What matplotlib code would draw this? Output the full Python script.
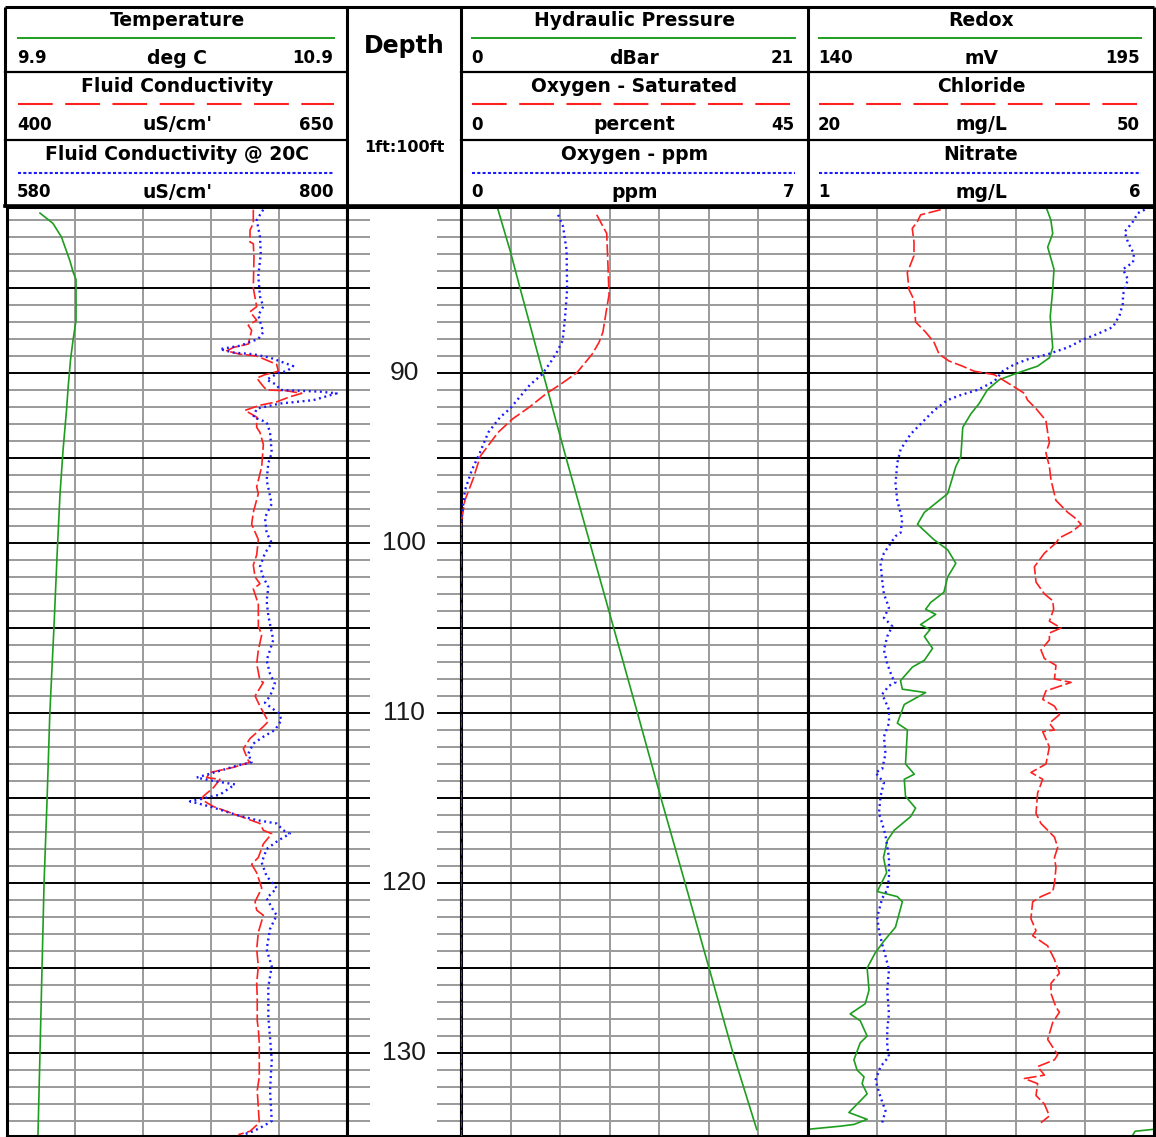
import numpy as np
import matplotlib
matplotlib.use("Agg")
import matplotlib.pyplot as plt
from matplotlib.ticker import MultipleLocator

plt.rcParams['lines.scale_dashes'] = False
plt.rcParams['font.family'] = ['DejaVu Sans']

# ---------------- data ----------------
# Track 1
temp_depth = [80.6, 81.2, 82.0, 83.4, 84.1, 84.5, 86.9, 88.1, 89.2, 90.8, 92.2, 94.5,
              97.1, 100.4, 105.0, 110.0, 115.0, 120.0, 125.0, 130.0, 134.9]
temp_val = [9.997, 10.035, 10.060, 10.085, 10.095, 10.103, 10.103, 10.094, 10.087, 10.080,
            10.075, 10.065, 10.056, 10.048, 10.038, 10.026, 10.018, 10.009, 10.003, 9.997, 9.991]

fc_depth = [80.4, 81.2, 81.6, 82.3, 82.4, 83.2, 85.0, 86.1, 86.4, 86.9, 87.2, 87.5, 88.3, 88.5,
            88.7, 88.9, 89.0, 89.5, 89.9, 90.1, 90.3, 90.8, 91.0, 91.05, 91.2, 91.4, 91.7, 91.9,
            92.2, 92.6, 93.2, 93.5, 94.2, 95.5, 96.7, 97.1, 98.2, 98.9, 99.8, 100.7, 101.3,
            102.0, 102.4, 102.7, 103.6, 104.9, 105.4, 106.3, 107.1, 108.1, 108.2, 109.0, 109.6,
            110.5, 110.8, 111.5, 112.1, 112.8, 112.9, 113.2, 113.5, 113.8, 113.9, 114.4, 114.9,
            115.1, 115.5, 116.0, 116.5, 116.9, 117.1, 117.7, 118.5, 118.9, 119.4, 120.3, 121.1,
            121.6, 121.9, 122.9, 123.9, 124.9, 125.9, 126.7, 128.1, 128.6, 129.4, 131.4, 132.2,
            134.1, 134.6, 134.8]
fc_val = [581.1, 581.1, 578.7, 578.7, 581.1, 581.6, 581.1, 583.6, 578.7, 583.6, 577.4, 579.9,
          577.4, 566.4, 561.5, 571.3, 583.6, 598.3, 599.5, 589.7, 583.6, 588.5, 591.0, 605.7,
          616.7, 608.1, 598.3, 586.0, 575.0, 583.6, 583.6, 586.0, 588.5, 587.3, 583.6, 584.8,
          581.1, 579.9, 584.8, 583.6, 581.1, 582.4, 586.0, 581.1, 584.8, 584.8, 587.3, 584.8,
          583.6, 586.0, 588.5, 582.4, 586.0, 592.1, 588.5, 578.7, 573.8, 577.4, 578.7, 566.4,
          549.3, 546.8, 556.6, 551.7, 544.3, 543.2, 551.7, 568.9, 586.0, 588.5, 594.6, 588.5,
          584.8, 579.9, 583.6, 587.3, 582.4, 583.6, 588.5, 584.8, 583.6, 584.8, 583.6, 584.0,
          584.0, 584.8, 585.5, 585.5, 584.0, 585.5, 578.7, 570.1]

fc20_depth = [80.4, 81.0, 82.0, 83.0, 84.3, 85.5, 86.1, 86.6, 87.6, 88.0, 88.4, 88.6, 88.8,
              88.9, 89.1, 89.6, 89.9, 90.0, 90.4, 90.7, 91.0, 91.1, 91.2, 91.6, 91.8, 92.1,
              92.6, 92.9, 93.5, 94.7, 95.3, 96.3, 97.7, 98.5, 99.4, 100.0, 100.6, 101.4, 102.0,
              102.6, 103.4, 104.3, 105.7, 106.9, 107.7, 108.3, 109.0, 109.4, 110.0, 110.4, 111.0,
              111.4, 111.8, 112.4, 112.9, 113.1, 113.4, 113.8, 114.0, 114.2, 114.8, 115.2, 115.5,
              116.0, 116.3, 116.5, 116.9, 117.1, 117.5, 118.0, 118.8, 119.6, 120.3, 120.9, 121.6,
              121.9, 122.7, 123.9, 124.9, 126.1, 127.9, 129.1, 130.4, 132.2, 134.0, 134.3, 134.6,
              134.8]
fc20_val = [745.8, 741.6, 743.7, 744.2, 742.6, 743.7, 745.8, 742.6, 745.8, 742.6, 730.8, 717.8,
            726.4, 739.4, 750.2, 765.2, 761.0, 755.5, 748.0, 754.5, 756.6, 782.5, 793.3, 778.2,
            756.6, 741.6, 739.4, 748.0, 750.2, 751.3, 749.1, 748.0, 751.3, 746.9, 748.0, 751.3,
            746.9, 743.7, 745.8, 749.1, 748.0, 749.1, 752.3, 748.0, 750.2, 753.4, 750.2, 746.9,
            755.5, 757.7, 753.4, 745.8, 739.4, 736.1, 738.3, 728.6, 717.8, 702.7, 713.5, 727.5,
            717.8, 698.4, 711.3, 728.6, 741.6, 754.5, 758.8, 763.1, 755.5, 748.0, 744.8, 748.0,
            754.5, 748.0, 752.3, 754.5, 750.2, 748.0, 751.3, 749.1, 749.1, 750.2, 751.3, 750.2,
            751.3, 745.8, 739.4, 732.9]

# Track 3
pres_depth = [80.2, 82.8, 85.0, 90.0, 95.0, 100.0, 105.0, 110.0, 115.0, 120.0, 125.0, 130.0, 134.5]
pres_val = [2.18, 2.97, 3.57, 4.96, 6.36, 7.80, 9.24, 10.68, 12.10, 13.56, 15.01, 16.46, 17.90]

osat_depth = [80.7, 81.8, 85.4, 86.2, 87.6, 88.2, 88.9, 90.0, 90.7, 91.2, 92.0, 92.7, 93.5,
              94.9, 96.2, 97.5, 98.6, 99.2, 134.9]
osat_val = [17.6, 18.9, 19.2, 18.9, 18.4, 17.9, 17.0, 15.0, 12.8, 11.1, 8.9, 6.7, 4.8,
            2.5, 1.6, 0.5, 0.1, 0.0, 0.0]

oppm_depth = [80.7, 81.4, 82.8, 85.1, 86.7, 88.1, 88.8, 89.4, 90.1, 90.7, 91.5, 92.1, 92.6,
              93.5, 94.7, 95.7, 96.9, 98.6, 99.2, 134.9]
oppm_val = [1.96, 2.06, 2.13, 2.14, 2.10, 2.05, 1.93, 1.80, 1.63, 1.39, 1.16, 0.99, 0.79,
            0.55, 0.38, 0.22, 0.08, 0.01, 0.0, 0.0]

# Track 4
redox_depth = [80.2, 81.0, 81.8, 82.6, 83.9, 85.1, 86.7, 88.5, 89.1, 89.6, 90.0, 90.4, 91.0,
               91.8, 92.4, 93.2, 94.9, 95.5, 97.1, 98.2, 98.9, 99.8, 100.4, 101.2, 102.0, 102.9,
               103.5, 103.9, 104.2, 104.8, 105.1, 105.5, 106.2, 106.9, 107.3, 108.1, 108.6,
               108.8, 109.5, 110.6, 111.0, 113.0, 113.6, 113.9, 114.9, 115.6, 116.1, 116.9,
               117.5, 118.5, 119.4, 120.5, 120.8, 121.1, 122.6, 123.4, 124.1, 125.0, 126.3,
               127.1, 127.7, 128.1, 129.0, 129.4, 130.4, 131.0, 131.4, 131.8, 132.4, 133.5,
               133.9, 134.2, 134.3, 134.5, 134.6, 134.9]
redox_val = [177.8, 178.6, 178.9, 178.1, 179.1, 178.9, 178.5, 178.9, 178.4, 176.5, 173.3, 170.4,
             168.5, 167.2, 165.9, 164.6, 164.3, 163.5, 162.2, 158.5, 157.4, 160.0, 162.2, 163.5,
             162.2, 161.6, 159.5, 158.7, 160.3, 157.9, 159.4, 158.5, 159.8, 158.5, 156.6, 154.7,
             155.0, 158.7, 155.3, 154.2, 155.8, 155.5, 156.9, 155.3, 155.5, 157.1, 156.3, 153.7,
             152.6, 152.0, 152.5, 151.0, 154.2, 155.0, 153.9, 152.1, 150.7, 149.4, 149.7, 149.1,
             146.7, 148.3, 149.4, 148.3, 147.3, 147.8, 148.9, 148.6, 149.4, 146.5, 149.4, 147.3,
             145.2, 139.6, 137.0, 136.5]

cl_depth = [80.4, 80.6, 80.7, 81.1, 81.5, 82.3, 83.1, 84.1, 85.1, 85.7, 87.0, 87.6, 88.2, 88.9,
            89.3, 89.6, 89.9, 90.1, 90.7, 91.2, 91.6, 92.1, 92.8, 93.5, 94.1, 94.7, 95.5, 96.3,
            97.5, 98.2, 98.5, 98.9, 99.3, 99.7, 100.0, 100.6, 101.4, 102.3, 103.0, 103.4, 103.9,
            104.6, 105.0, 105.3, 105.7, 106.3, 106.8, 107.2, 108.0, 108.2, 108.4, 108.7, 109.2,
            109.6, 110.1, 110.6, 111.0, 111.1, 112.0, 113.0, 113.5, 113.9, 114.7, 115.9, 116.5,
            117.3, 117.9, 118.5, 119.1, 120.0, 120.5, 120.8, 121.1, 122.1, 122.8, 123.1, 123.7,
            124.5, 125.3, 125.9, 126.5, 127.3, 127.6, 128.2, 129.2, 130.1, 130.4, 130.8, 131.3,
            131.5, 131.8, 132.5, 133.0, 133.7, 134.1]
cl_val = [31.50, 30.35, 29.77, 29.48, 29.04, 29.19, 29.19, 28.61, 28.76, 29.19, 29.33, 30.20,
          30.93, 31.37, 32.23, 33.39, 34.41, 36.15, 37.59, 38.76, 39.04, 39.77, 40.63, 40.78,
          40.93, 40.63, 40.93, 41.07, 41.50, 42.52, 43.10, 43.68, 42.96, 41.80, 41.50, 40.50,
          39.63, 39.77, 40.50, 41.22, 41.30, 40.93, 41.94, 40.93, 40.93, 40.20, 40.50, 41.50,
          41.37, 42.81, 41.94, 40.63, 40.35, 41.37, 41.80, 40.93, 41.37, 40.35, 40.93, 40.63,
          39.33, 40.35, 39.91, 39.77, 40.20, 41.37, 41.65, 41.37, 41.50, 41.37, 41.22, 40.20,
          39.48, 39.33, 39.77, 39.48, 40.78, 41.37, 41.80, 41.07, 41.07, 41.50, 41.80, 41.22,
          40.78, 41.65, 41.37, 39.91, 40.50, 38.76, 39.91, 39.77, 40.50, 40.93, 40.20]

no3_depth = [80.4, 80.6, 81.1, 81.7, 82.3, 83.0, 83.5, 83.9, 84.5, 85.4, 85.9, 86.6, 87.3, 87.7,
             88.0, 88.5, 88.9, 89.2, 89.5, 89.9, 90.5, 91.0, 91.3, 91.6, 92.2, 92.9, 93.6, 94.5,
             95.3, 96.5, 97.5, 98.6, 99.4, 99.6, 100.6, 101.2, 102.2, 103.0, 103.8, 104.4, 104.9,
             105.5, 106.3, 107.1, 107.9, 108.2, 108.4, 108.9, 109.8, 110.6, 111.4, 112.4, 113.3,
             113.5, 114.1, 114.9, 115.9, 116.5, 117.2, 118.5, 119.7, 120.4, 120.9, 122.0, 122.8,
             123.6, 124.3, 125.1, 126.3, 127.7, 128.6, 129.6, 130.2, 130.8, 131.6, 132.6, 133.4,
             134.1]
no3_val = [5.865, 5.768, 5.696, 5.575, 5.623, 5.710, 5.696, 5.551, 5.623, 5.551, 5.551, 5.503,
           5.406, 5.188, 4.996, 4.754, 4.464, 4.174, 3.981, 3.812, 3.691, 3.449, 3.207, 3.014,
           2.822, 2.652, 2.483, 2.338, 2.290, 2.265, 2.290, 2.362, 2.338, 2.265, 2.097, 2.048,
           2.072, 2.097, 2.170, 2.097, 2.217, 2.145, 2.097, 2.145, 2.217, 2.265, 2.170, 2.072,
           2.170, 2.170, 2.097, 2.120, 2.072, 1.975, 2.097, 2.048, 2.025, 2.072, 2.120, 2.170,
           2.170, 2.145, 2.072, 2.000, 2.025, 2.072, 2.120, 2.170, 2.145, 2.170, 2.145, 2.145,
           2.170, 2.048, 1.975, 2.048, 2.120, 2.072]

# scales / header labels
track1_names = ["Temperature", "Fluid Conductivity", "Fluid Conductivity @ 20C"]
track1_units = ["deg C", "uS/cm'", "uS/cm'"]
track1_ranges = [(9.9, 10.9), (400, 650), (580, 800)]
track3_names = ["Hydraulic Pressure", "Oxygen - Saturated", "Oxygen - ppm"]
track3_units = ["dBar", "percent", "ppm"]
track3_ranges = [(0, 21), (0, 45), (0, 7)]
track4_names = ["Redox", "Chloride", "Nitrate"]
track4_units = ["mV", "mg/L", "mg/L"]
track4_ranges = [(140, 195), (20, 50), (1, 6)]
depth_labels = [90, 100, 110, 120, 130]
depth_top, depth_bottom = 80.24, 134.88

# ---------------- figure ----------------
W, H = 1156, 1137
fig = plt.figure(figsize=(W / 100, H / 100), dpi=100)
fig.patch.set_facecolor('white')


def box(x0, y0, x1, y1):
    return [x0 / W, 1 - y1 / H, (x1 - x0) / W, (y1 - y0) / H]


GREEN = '#1e9e1e'
RED = '#ff2020'
BLUE = '#1a1aff'
GRID = '#9a9a9a'
styles = [dict(color=GREEN, lw=1.2, ls='-'),
          dict(color=RED, lw=1.2, dashes=(9, 2.5)),
          dict(color=BLUE, lw=1.7, dashes=(1.4, 2.6))]

PLOT_TOP, PLOT_BOT = 207, 1136


def setup_track(ax, xlim, ndiv):
    ax.set_xlim(*xlim)
    ax.set_ylim(depth_bottom, depth_top)
    ax.set_xticks(np.linspace(xlim[0], xlim[1], ndiv + 1))
    ax.yaxis.set_major_locator(MultipleLocator(5))
    ax.yaxis.set_minor_locator(MultipleLocator(1))
    ax.grid(axis='x', which='major', color=GRID, lw=1.4)
    ax.grid(axis='y', which='minor', color=GRID, lw=1.4)
    ax.grid(axis='y', which='major', color='black', lw=1.4)
    ax.tick_params(which='both', length=0, labelbottom=False, labelleft=False)
    ax.set_axisbelow(True)
    for s in ax.spines.values():
        s.set_color('black')
        s.set_linewidth(2.2)


def twin(ax, xlim):
    t = ax.twiny()
    t.set_xlim(*xlim)
    t.set_ylim(depth_bottom, depth_top)
    t.axis('off')
    return t


ax1 = fig.add_axes(box(7, PLOT_TOP, 347, PLOT_BOT))
axd = fig.add_axes(box(347, PLOT_TOP, 461, PLOT_BOT))
ax3 = fig.add_axes(box(461, PLOT_TOP, 808, PLOT_BOT))
ax4 = fig.add_axes(box(808, PLOT_TOP, 1154, PLOT_BOT))

# Track 1
setup_track(ax1, track1_ranges[0], 5)
ax1.plot(temp_val, temp_depth, **styles[0])
t = twin(ax1, track1_ranges[1]); t.plot(fc_val, fc_depth, **styles[1])
t = twin(ax1, track1_ranges[2]); t.plot(fc20_val, fc20_depth, **styles[2])

# Track 3
setup_track(ax3, track3_ranges[0], 7)
ax3.plot(pres_val, pres_depth, **styles[0])
t = twin(ax3, track3_ranges[1]); t.plot(osat_val, osat_depth, **styles[1])
t = twin(ax3, track3_ranges[2]); t.plot(oppm_val, oppm_depth, **styles[2])

# Track 4
setup_track(ax4, track4_ranges[0], 5)
ax4.plot(redox_val, redox_depth, **styles[0])
span = track4_ranges[0][1] - track4_ranges[0][0]
ax4.plot(np.array(redox_val) + span, redox_depth, **styles[0])  # wrap-around backup
t = twin(ax4, track4_ranges[1]); t.plot(cl_val, cl_depth, **styles[1])
t = twin(ax4, track4_ranges[2]); t.plot(no3_val, no3_depth, **styles[2])

# Depth track
axd.set_xlim(0, 1)
axd.set_ylim(depth_bottom, depth_top)
axd.set_xticks([]); axd.set_yticks([])
for s in axd.spines.values():
    s.set_color('black'); s.set_linewidth(2.2)
ft = np.arange(81, 135)
minor_ft = ft[ft % 5 != 0]
major_ft = ft[ft % 5 == 0]
for x0, x1 in [(0, 0.2), (0.79, 1)]:
    axd.hlines(minor_ft, x0, x1, color=GRID, lw=1.4)
    axd.hlines(major_ft, x0, x1, color='black', lw=1.4)
for d in depth_labels:
    axd.text(0.5, d, str(d), ha='center', va='center', fontsize=19,
             family='Liberation Sans', color='#1a1a1a')

# ---------------- header ----------------
axh = fig.add_axes([0, 0, 1, 1], zorder=5)
axh.set_xlim(0, W); axh.set_ylim(H, 0); axh.axis('off')
axh.patch.set_visible(False)

K = dict(color='black', lw=2.2, solid_capstyle='butt')
axh.plot([5, 1154], [7, 7], **K)
axh.plot([5, 5], [7, 207], **K)
axh.plot([1154, 1154], [7, 207], **K)
for x in (347, 461, 808):
    axh.plot([x, x], [7, 207], **K)
axh.plot([5, 1154], [206, 206], color='black', lw=2.6)
for (x0, x1) in [(5, 347), (461, 808), (808, 1154)]:
    for y in (72, 140):
        axh.plot([x0, x1], [y, y], color='black', lw=1.6)

title_y = [20, 87, 154]
line_y = [38, 104, 173]
num_y = [58, 125, 192]
hdr_styles = [dict(color=GREEN, lw=1.4, ls='-'),
              dict(color=RED, lw=1.5, dashes=(25, 9)),
              dict(color=BLUE, lw=1.5, dashes=(2.2, 1.6))]


def fmt(v):
    return f"{v:g}"


for (x0, x1), names, units, ranges in [((7, 347), track1_names, track1_units, track1_ranges),
                                         ((461, 808), track3_names, track3_units, track3_ranges),
                                         ((808, 1154), track4_names, track4_units, track4_ranges)]:
    cx = (x0 + x1) / 2
    for i in range(3):
        axh.text(cx, title_y[i], names[i], ha='center', va='center', fontsize=13.5,
                 fontweight='bold')
        axh.plot([x0 + 11, x1 - 13], [line_y[i], line_y[i]], **hdr_styles[i])
        axh.text(x0 + 10, num_y[i], fmt(ranges[i][0]), ha='left', va='center',
                 fontsize=12, fontweight='bold')
        axh.text(x1 - 14, num_y[i], fmt(ranges[i][1]), ha='right', va='center',
                 fontsize=12, fontweight='bold')
        axh.text(cx, num_y[i], units[i], ha='center', va='center', fontsize=13.5,
                 fontweight='bold')

axh.text(404, 46, "Depth", ha='center', va='center', fontsize=17, fontweight='bold')
axh.text(404, 148, "1ft:100ft", ha='center', va='center', fontsize=11.5, fontweight='bold')

fig.savefig("out.png", dpi=100, facecolor='white')
